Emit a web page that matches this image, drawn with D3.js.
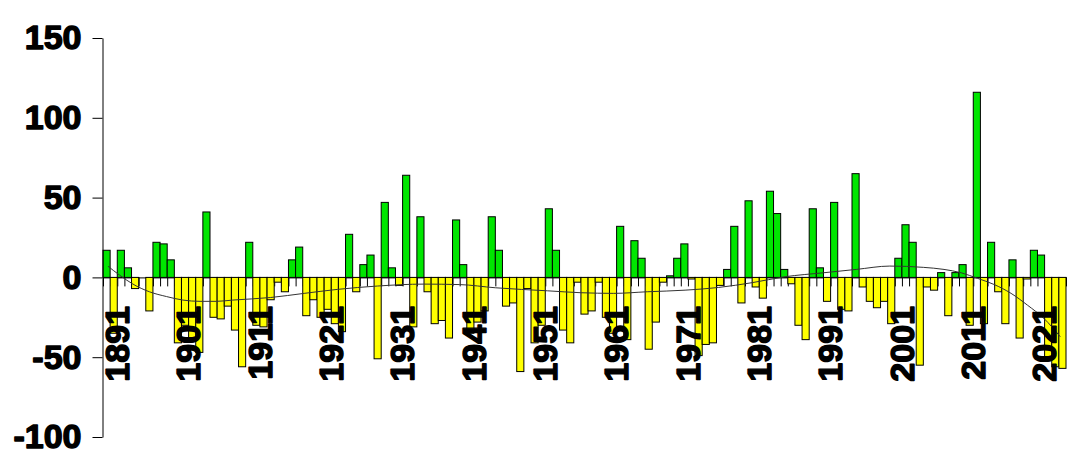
<!DOCTYPE html>
<html>
<head>
<meta charset="utf-8">
<script src="https://cdn.jsdelivr.net/npm/d3@7"></script>
<style>
  html, body { margin: 0; padding: 0; background: #fff; }
  svg { display: block; }
  text { font-family: "Liberation Sans", Arial, sans-serif; font-weight: bold; }
</style>
</head>
<body>
<svg id="chart" width="1086" height="470"></svg>
<script>
// ---- data ----
const years = d3.range(1891, 2026);
const values = [
  17, -35, 17, 6, -7, 0, -21, 22, 21, 11,
  -41, -30, -38, -47, 41, -25, -26, -18, -33, -56,
  22, -30, -31, -14, -3, -9, 11, 19, -24, -14,
  -25, -20, -29, -34, 27, -9, 8, 14, -51, 47,
  6, -5, 64, -31, 38, -9, -29, -27, -38, 36,
  8, -35, -28, -21, 38, 17, -18, -16, -59, -7,
  -41, -30, 43, 17, -33, -41, -3, -23, -21, -3,
  -25, -35, 32, -39, 23, 12, -45, -28, -3, 1,
  12, 21, -1, -49, -42, -41, -5, 5, 32, -16,
  48, -6, -13, 54, 40, 5, -4, -30, -39, 43,
  6, -15, 47, -20, -21, 65, -6, -15, -19, -15,
  -29, 12, 33, 22, -55, -6, -8, 3, -24, 3,
  8, -30, 116, -29, 22, -9, -29, 11, -38, -1,
  17, 14, -52, -56, -57
];
const trendYears = [1891.2, 1892.8, 1894.7, 1897, 1899.4, 1901.7, 1904.1, 1906.4, 1908.7, 1914,
  1918.7, 1923.4, 1929, 1935.5, 1940.5, 1945.5, 1952.8, 1957.5, 1962.1, 1966.8,
  1972.1, 1976.8, 1981.5, 1986.1, 1991.5, 1996.1, 2000.8, 2005.5, 2008.4, 2010.8,
  2013.1, 2015.4, 2017.8, 2020.1, 2022.4, 2024.7];
const trendValues = [7, 1.5, -4.2, -9, -12, -14.2, -15, -15, -14.2, -12.6,
  -10, -7.5, -5.4, -4.2, -4.5, -6.5, -8.4, -9.6, -10, -9,
  -8, -6.3, -3.3, 0.4, 2.9, 5, 7.1, 6.3, 5, 2.9,
  -0.6, -4.4, -10, -17.4, -25.7, -37.2];
const yTicks = [-100, -50, 0, 50, 100, 150];
const labelYears = [1891, 1901, 1911, 1921, 1931, 1941, 1951, 1961, 1971, 1981, 1991, 2001, 2011, 2021];

// ---- layout ----
const svg = d3.select("#chart");
const plotLeft = 103, plotRight = 1066, plotTop = 38, plotBottom = 437;

const x = d3.scaleBand().domain(years).range([plotLeft, plotRight]).padding(0);
const xLin = d3.scaleLinear().domain([years[0] - 0.5, years[years.length - 1] + 0.5]).range([plotLeft, plotRight]);
const y = d3.scaleLinear().domain([-100, 150]).range([plotBottom, plotTop]);

// x axis at zero with ticks between categories (drawn beneath bars)
const boundaries = years.map(d => d - 0.5).concat([years[years.length - 1] + 0.5]);
const xAxis = svg.append("g")
  .attr("transform", `translate(0,${y(0)})`)
  .call(d3.axisBottom(xLin).tickValues(boundaries).tickFormat("").tickSizeInner(9).tickSizeOuter(0));
xAxis.selectAll("line").attr("stroke", "#000");
xAxis.select(".domain").attr("stroke", "#000");

// bars
svg.append("g").selectAll("rect")
  .data(years)
  .join("rect")
  .attr("x", d => x(d))
  .attr("width", x.bandwidth())
  .attr("y", (d, i) => y(Math.max(0, values[i])))
  .attr("height", (d, i) => Math.abs(y(values[i]) - y(0)))
  .attr("fill", (d, i) => values[i] >= 0 ? "#00e600" : "#ffff00")
  .attr("stroke", "#000")
  .attr("stroke-width", 1);

// trend line
svg.append("path")
  .datum(trendYears.map((d, i) => [d, trendValues[i]]))
  .attr("fill", "none")
  .attr("stroke", "#333")
  .attr("stroke-width", 1)
  .attr("d", d3.line().x(d => xLin(d[0])).y(d => y(d[1])).curve(d3.curveMonotoneX));

// y axis
const yAxis = svg.append("g")
  .attr("transform", `translate(${plotLeft - 0.5},0)`)
  .call(d3.axisLeft(y).tickValues(yTicks).tickFormat(d => String(d)).tickSize(10).tickPadding(11).tickSizeOuter(0));
yAxis.select(".domain").attr("stroke", "#000");
yAxis.selectAll("line").attr("stroke", "#000");
yAxis.selectAll("text")
  .attr("font-size", 34)
  .attr("font-family", "'Liberation Sans', Arial, sans-serif")
  .attr("font-weight", "bold")
  .attr("fill", "#000")
  .attr("stroke", "#000")
  .attr("stroke-width", 1.4)
  .attr("stroke-linejoin", "round");

// rotated category labels
svg.append("g").selectAll("text")
  .data(labelYears)
  .join("text")
  .attr("transform", d => `translate(${x(d) + x.bandwidth() / 2 + 10.5},306) rotate(-90)`)
  .attr("text-anchor", "end")
  .attr("dy", "0.35em")
  .attr("font-size", 34)
  .attr("fill", "#000")
  .attr("stroke", "#000")
  .attr("stroke-width", 1.4)
  .attr("stroke-linejoin", "round")
  .text(d => d);
</script>
</body>
</html>
